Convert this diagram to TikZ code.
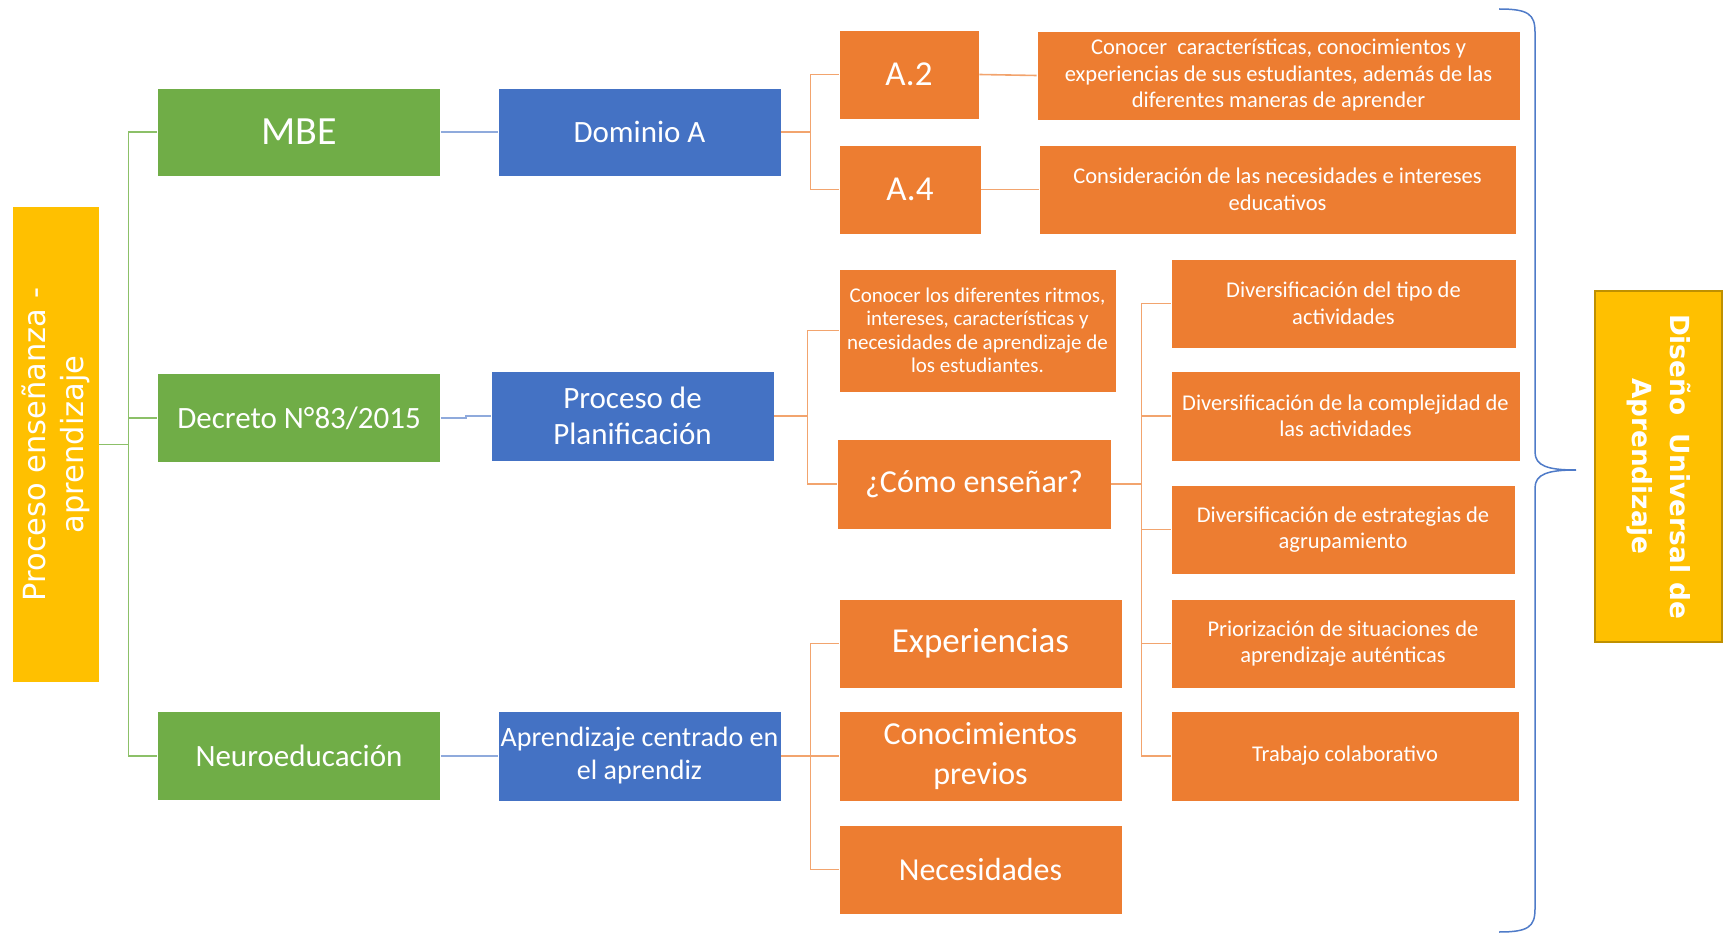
\documentclass[tikz,border=0pt]{standalone}
\usepackage{fontspec}
\setmainfont{Carlito}
\newfontfamily\dejavu{DejaVu Sans}
\definecolor{cgreen}{HTML}{70AD47}
\definecolor{cblue}{HTML}{4472C4}
\definecolor{corange}{HTML}{ED7D31}
\definecolor{cyellow}{HTML}{FFC000}
\definecolor{cgold}{HTML}{BF9000}
\definecolor{lgreen}{HTML}{8CC068}
\definecolor{lblue}{HTML}{8FAADC}
\definecolor{lorange}{HTML}{F2A46E}
\definecolor{bracec}{HTML}{4F7BC8}
\begin{document}
\begin{tikzpicture}[x=1pt,y=-1pt,
  box/.style={rectangle, draw=white, line width=0.8pt, text=white, align=center, inner sep=0pt},
  gbox/.style={box, fill=cgreen},
  bbox/.style={box, fill=cblue},
  obox/.style={box, fill=corange},
  big/.style={font=\fontsize{31}{36}\selectfont},
  small/.style={font=\fontsize{22.5}{26.5}\selectfont},
  gc/.style={draw=lgreen, line width=1.6pt},
  bc/.style={draw=lblue, line width=1.6pt},
  oc/.style={draw=lorange, line width=1.6pt}
]
\useasboundingbox (0,0) rectangle (1727,933);

% left yellow
\node[box, draw=none, fill=cyellow, minimum width=86, minimum height=475] (ly) at (56,444.5)
  {\rotatebox{90}{\parbox{440pt}{\centering\dejavu\fontsize{30.5}{37.5}\selectfont Proceso enseñanza -\\aprendizaje}}};

% green
\node[gbox, big, font=\fontsize{40}{46}\selectfont, minimum width=283, minimum height=88] (mbe) at (299,132) {MBE};
\node[gbox, big, minimum width=283, minimum height=89] (dec) at (299,418) {Decreto N°83/2015};
\node[gbox, big, minimum width=283, minimum height=89] (neu) at (299,756) {Neuroeducación};

% blue
\node[bbox, big, minimum width=283, minimum height=88] (doma) at (639.5,132) {Dominio A};
\node[bbox, big, minimum width=283, minimum height=90] (proc) at (632.5,416) {Proceso de\\Planificación};
\node[bbox, font=\fontsize{28}{33}\selectfont, minimum width=283, minimum height=90] (apr) at (639.5,756) {Aprendizaje centrado en\\el aprendiz};

% orange column 1
\node[obox, font=\fontsize{35}{40}\selectfont, minimum width=140, minimum height=89] (a2) at (909,74.5) {A.2};
\node[obox, font=\fontsize{35}{40}\selectfont, minimum width=142, minimum height=89] (a4) at (910,189.5) {A.4};
\node[obox, font=\fontsize{21}{23.5}\selectfont, minimum width=277, minimum height=123] (con) at (977.5,330.5)
  {Conocer los diferentes ritmos,\\intereses, características y\\necesidades de aprendizaje de\\los estudiantes.};
\node[obox, font=\fontsize{32}{38}\selectfont, minimum width=274, minimum height=90] (como) at (974,484) {¿Cómo enseñar?};
\node[obox, font=\fontsize{35}{40}\selectfont, minimum width=283, minimum height=89] (exp) at (980.5,643.5) {Experiencias};
\node[obox, font=\fontsize{32}{40}\selectfont, minimum width=283, minimum height=90] (cp) at (980.5,756) {Conocimientos\\previos};
\node[obox, font=\fontsize{32}{38}\selectfont, minimum width=283, minimum height=89] (nec) at (980.5,869.5) {Necesidades};

% orange text boxes
\node[obox, small, minimum width=483, minimum height=89] (a2t) at (1278.5,75.5)
  {Conocer\ \ características, conocimientos y\\experiencias de sus estudiantes, además de las\\diferentes maneras de aprender};
\node[obox, small, minimum width=477, minimum height=89] (a4t) at (1277.5,189.5)
  {Consideración de las necesidades e intereses\\educativos};

% diversification column
\node[obox, small, minimum width=345, minimum height=89] (d1) at (1343.5,303.5) {Diversificación del tipo de\\actividades};
\node[obox, small, minimum width=349, minimum height=90] (d2) at (1345.5,416) {Diversificación de la complejidad de\\las actividades};
\node[obox, small, minimum width=344, minimum height=89] (d3) at (1343,529.5) {Diversificación de estrategias de\\agrupamiento};
\node[obox, small, minimum width=344, minimum height=89] (d4) at (1343,643.5) {Priorización de situaciones de\\aprendizaje auténticas};
\node[obox, small, minimum width=348, minimum height=90] (d5) at (1345,756) {Trabajo colaborativo};

% right yellow
\node[box, draw=cgold, line width=1.5pt, fill=cyellow, minimum width=127, minimum height=351] (ry) at (1658.5,466.5)
  {\rotatebox{-90}{\parbox{330pt}{\centering\dejavu\bfseries\fontsize{26.3}{38}\selectfont Diseño\ \ Universal de\\Aprendizaje}}};

% green connectors
\draw[gc] (ly.east) -- ++(29,0) coordinate (gt);
\draw[gc] (gt) |- (mbe.west);
\draw[gc] (gt) |- (dec.west);
\draw[gc] (gt) |- (neu.west);

% blue connectors
\draw[bc] (mbe.east) -- (doma.west);
\draw[bc] (dec.east) -- ++(25,0) |- (proc.west);
\draw[bc] (neu.east) -- (apr.west);

% orange connectors
\draw[oc] (doma.east) -- ++(29,0) coordinate (ot1);
\draw[oc] (ot1) |- (a2.west);
\draw[oc] (ot1) |- (a4.west);
\draw[oc] (a2.east) -- (a2t.west);
\draw[oc] (a4.east) -- (a4t.west);

\draw[oc] (proc.east) -- ++(33,0) coordinate (ot2);
\draw[oc] (ot2) |- (con.west);
\draw[oc] (ot2) |- (como.west);

\draw[oc] (como.east) -- ++(30,0) coordinate (ot3);
\draw[oc] (ot3) |- (d1.west);
\draw[oc] (ot3) |- (d2.west);
\draw[oc] (ot3) |- (d3.west);
\draw[oc] (ot3) |- (d4.west);
\draw[oc] (ot3) |- (d5.west);

\draw[oc] (apr.east) -- ++(29,0) coordinate (ot4);
\draw[oc] (ot4) |- (exp.west);
\draw[oc] (ot4) |- (cp.west);
\draw[oc] (ot4) |- (nec.west);

% brace
\draw[bracec, line width=1.5pt] (1499,9) .. controls (1528,9) and (1535,14) .. (1535,32)
  -- (1535,452) .. controls (1535,466) and (1548,470) .. (1576,470)
  .. controls (1548,470) and (1535,474) .. (1535,488)
  -- (1535,909) .. controls (1535,927) and (1528,932) .. (1499,932);
\end{tikzpicture}
\end{document}
